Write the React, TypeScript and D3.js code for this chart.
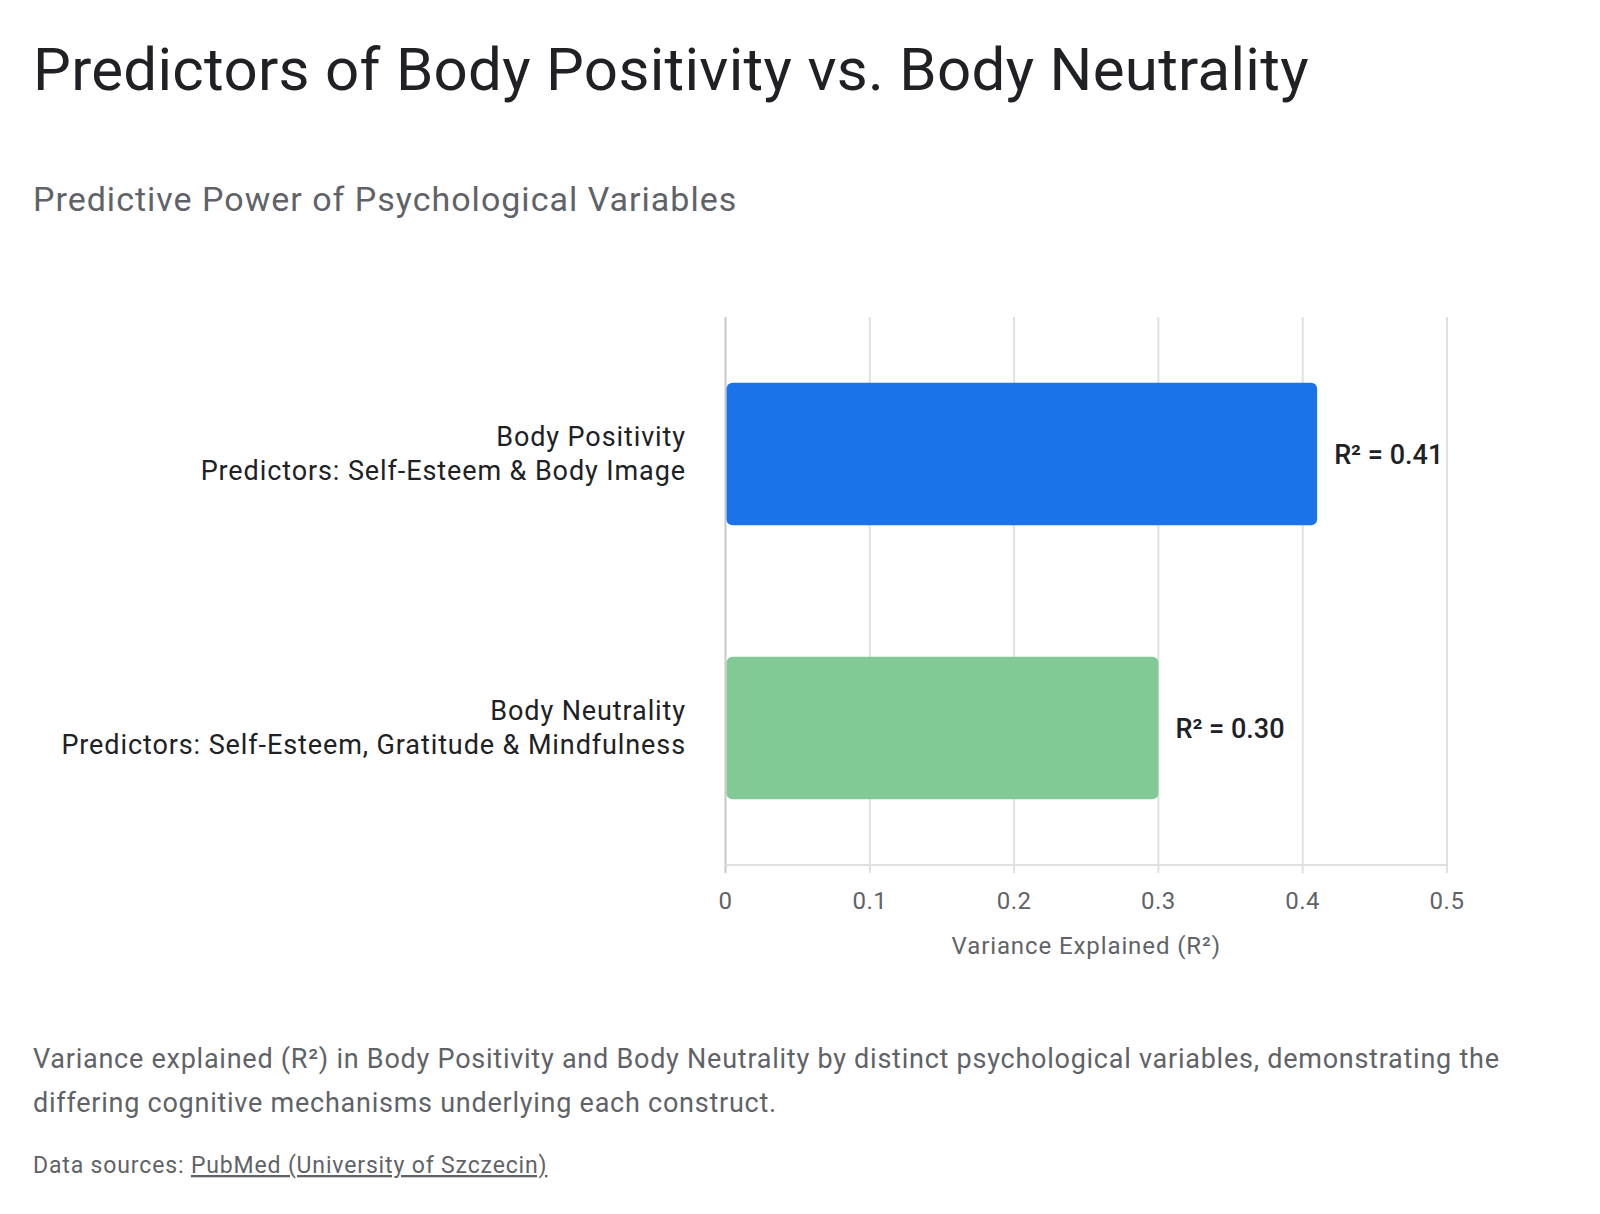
import React, { useEffect, useRef } from "react";
import * as d3 from "d3";

const categories = ["Body Positivity", "Body Neutrality"];
const predictors = [
  "Predictors: Self-Esteem & Body Image",
  "Predictors: Self-Esteem, Gratitude & Mindfulness",
];
const values = [0.41, 0.3];
const colors = ["#1a73e8", "#81c995"];
const xTicks = [0, 0.1, 0.2, 0.3, 0.4, 0.5];

const W = 1600;
const H = 1214;
const FONT = "Roboto, 'Noto Sans', sans-serif";

function App() {
  const ref = useRef<SVGSVGElement>(null);

  useEffect(() => {
    const svg = d3.select(ref.current);
    svg.selectAll("*").remove();

    const margin = { left: 725.5, right: W - 1447, top: 317, bottom: H - 865 };

    const x = d3.scaleLinear().domain([0, 0.5]).range([margin.left, W - margin.right]);
    const y = d3
      .scaleBand()
      .domain(categories)
      .range([margin.top, H - margin.bottom])
      .paddingInner(0.48)
      .paddingOuter(0.24);

    // titles
    svg.append("text")
      .attr("x", 33).attr("y", 90)
      .attr("font-size", 60).attr("letter-spacing", 0.3).attr("fill", "#202124")
      .text("Predictors of Body Positivity vs. Body Neutrality");

    svg.append("text")
      .attr("x", 33).attr("y", 211)
      .attr("font-size", 34).attr("letter-spacing", 1).attr("fill", "#5f6368")
      .text("Predictive Power of Psychological Variables");

    // grid
    const grid = svg.append("g");
    grid.selectAll("line")
      .data(xTicks)
      .join("line")
      .attr("x1", (d) => x(d)).attr("x2", (d) => x(d))
      .attr("y1", margin.top).attr("y2", H - margin.bottom + 8)
      .attr("stroke", (d) => (d === 0 ? "#c8c8c8" : "#e0e0e0"))
      .attr("stroke-width", 2);

    grid.append("line")
      .attr("x1", x(0)).attr("x2", x(0.5))
      .attr("y1", H - margin.bottom).attr("y2", H - margin.bottom)
      .attr("stroke", "#e0e0e0").attr("stroke-width", 2);

    // tick labels
    svg.append("g")
      .selectAll("text")
      .data(xTicks)
      .join("text")
      .attr("x", (d) => x(d)).attr("y", 909)
      .attr("text-anchor", "middle")
      .attr("font-size", 24).attr("letter-spacing", 0.5).attr("fill", "#5f6368")
      .text((d) => d3.format("")(d));

    svg.append("text")
      .attr("x", (x(0) + x(0.5)) / 2).attr("y", 954)
      .attr("text-anchor", "middle")
      .attr("font-size", 24).attr("letter-spacing", 0.9).attr("fill", "#5f6368")
      .text("Variance Explained (R²)");

    // bars
    svg.append("g")
      .selectAll("rect")
      .data(values)
      .join("rect")
      .attr("x", x(0) + 1)
      .attr("y", (d, i) => y(categories[i])!)
      .attr("width", (d) => x(d) - x(0) - 1)
      .attr("height", y.bandwidth())
      .attr("rx", 6)
      .attr("fill", (d, i) => colors[i]);

    // value labels
    svg.append("g")
      .selectAll("text")
      .data(values)
      .join("text")
      .attr("x", (d) => x(d) + 17)
      .attr("y", (d, i) => y(categories[i])! + y.bandwidth() / 2 + 10)
      .attr("font-size", 27).attr("font-weight", 500).attr("fill", "#202124")
      .text((d) => `R² = ${d3.format(".2f")(d)}`);

    // category labels
    const lab = svg.append("g")
      .selectAll("text")
      .data(categories)
      .join("text")
      .attr("text-anchor", "end")
      .attr("font-size", 27).attr("letter-spacing", 0.9).attr("fill", "#202124");
    lab.append("tspan")
      .attr("x", 686)
      .attr("y", (d) => y(d)! + y.bandwidth() / 2 - 8)
      .text((d) => d);
    lab.append("tspan")
      .attr("x", 686)
      .attr("y", (d) => y(d)! + y.bandwidth() / 2 + 26)
      .text((d, i) => predictors[i]);

    // footer
    const foot = svg.append("g")
      .attr("font-size", 27).attr("letter-spacing", 0.75).attr("fill", "#5f6368");
    foot.append("text")
      .attr("x", 33).attr("y", 1068)
      .text("Variance explained (R²) in Body Positivity and Body Neutrality by distinct psychological variables, demonstrating the");
    foot.append("text")
      .attr("x", 33).attr("y", 1112)
      .text("differing cognitive mechanisms underlying each construct.");

    const src = svg.append("text")
      .attr("x", 33).attr("y", 1173)
      .attr("font-size", 23).attr("letter-spacing", 0.85).attr("fill", "#5f6368");
    src.append("tspan").text("Data sources: ");
    src.append("tspan").attr("text-decoration", "underline").text("PubMed (University of Szczecin)");
  }, []);

  return (
    <svg
      ref={ref}
      width={W}
      height={H}
      style={{ position: "absolute", left: 0, top: 0, background: "#fff", fontFamily: FONT }}
    />
  );
}

export default App;
